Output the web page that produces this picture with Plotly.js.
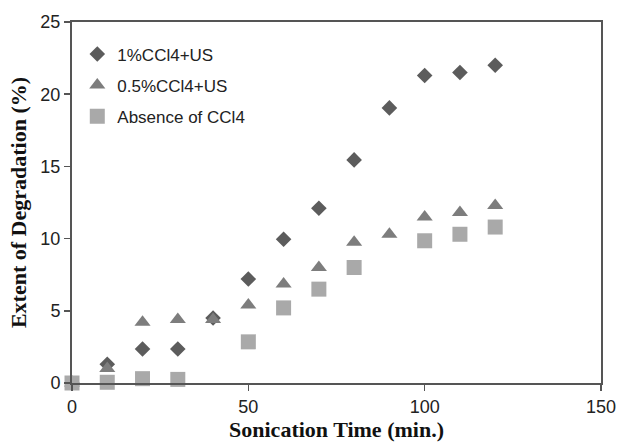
<!DOCTYPE html>
<html>
<head>
<meta charset="utf-8">
<script src="https://cdn.plot.ly/plotly-3.0.1.min.js"></script>
<style>html,body{margin:0;padding:0;background:#fff;}#chart{width:618px;height:444px;}</style>
</head>
<body>
<div id="chart"></div>
<script>
var timeA = [0, 10, 20, 30, 40, 50, 60, 70, 80, 90, 100, 110, 120];
var ccl4_1 = [0, 1.3, 2.35, 2.35, 4.5, 7.2, 9.95, 12.1, 15.45, 19.05, 21.3, 21.5, 22.0];
var ccl4_05 = [0, 1.0, 4.2, 4.4, 4.4, 5.4, 6.85, 8.0, 9.75, 10.3, 11.5, 11.8, 12.3];
var timeB = [0, 10, 20, 30, 50, 60, 70, 80, 100, 110, 120];
var absence = [0, 0.05, 0.3, 0.25, 2.85, 5.2, 6.5, 8.0, 9.85, 10.3, 10.8];
var names = ['1%CCl4+US', '0.5%CCl4+US', 'Absence of CCl4'];

var traces = [
  {x: timeA, y: ccl4_1, name: names[0], type: 'scatter', mode: 'markers', cliponaxis: false,
   legendgroup: 'a', legendrank: 1,
   marker: {symbol: 'diamond', size: 12, color: '#5c5c5c'}},
  {x: timeA, y: ccl4_05, name: names[1], type: 'scatter', mode: 'markers', cliponaxis: false,
   legendgroup: 'b', legendrank: 2,
   marker: {symbol: 'triangle-up', size: 14, color: '#7d7d7d'}},
  {x: timeB, y: absence, name: names[2], type: 'scatter', mode: 'markers', cliponaxis: false,
   legendgroup: 'c', legendrank: 3,
   marker: {symbol: 'square', size: 15, color: '#a9a9a9'}}
];

var titleFont = {family: 'Liberation Serif, Times New Roman, serif', size: 22, color: '#111', weight: 'bold'};

var layout = {
  width: 618, height: 444,
  margin: {l: 72, r: 17, t: 22, b: 61},
  paper_bgcolor: '#fff', plot_bgcolor: '#fff',
  font: {family: 'Liberation Sans, Arial, sans-serif', size: 18, color: '#222'},
  showlegend: true,
  legend: {x: 0.01, y: 0.96, xanchor: 'left', yanchor: 'top', bgcolor: 'rgba(0,0,0,0)',
           traceorder: 'grouped', tracegroupgap: 6, font: {size: 17, color: '#222'}},
  xaxis: {range: [0, 150], tickvals: [0, 50, 100, 150], showgrid: false, zeroline: false,
          showline: true, linecolor: '#555', linewidth: 2, mirror: true,
          ticks: 'outside', ticklen: 6, tickcolor: '#555', tickwidth: 1.5,
          tickfont: {size: 18},
          title: {text: 'Sonication Time (min.)', standoff: 6, font: titleFont}},
  yaxis: {range: [0, 25], tickvals: [0, 5, 10, 15, 20, 25], showgrid: false, zeroline: false,
          showline: true, linecolor: '#555', linewidth: 2, mirror: true,
          ticks: 'outside', ticklen: 6, tickcolor: '#555', tickwidth: 1.5,
          tickfont: {size: 18},
          title: {text: 'Extent of Degradation (%)', standoff: 8, font: titleFont}}
};

Plotly.newPlot('chart', traces, layout, {displayModeBar: false, staticPlot: true});
</script>
</body>
</html>
